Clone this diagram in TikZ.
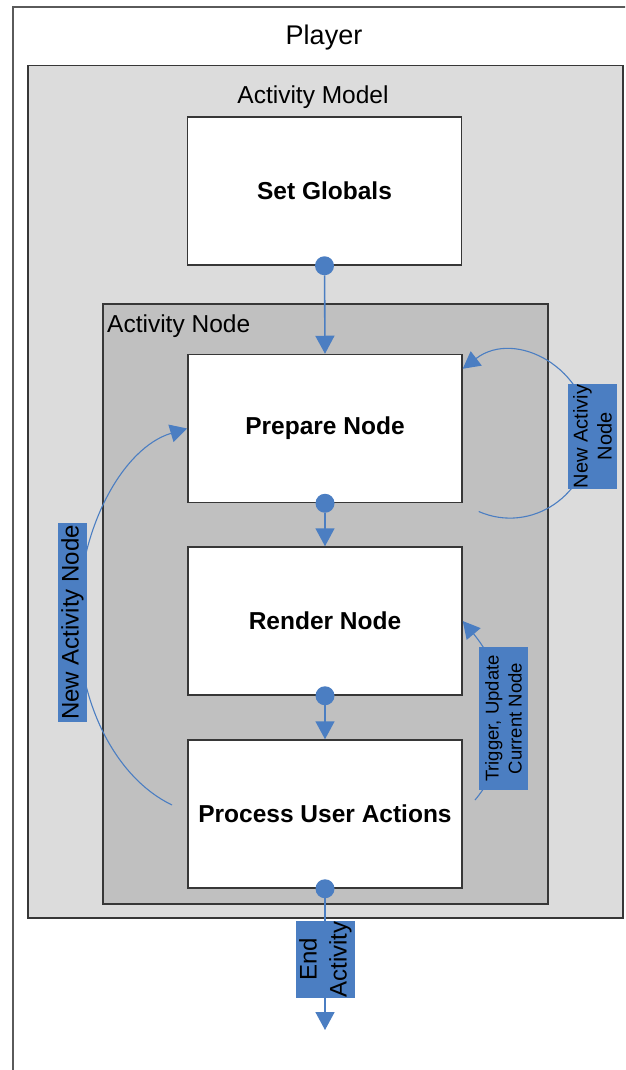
\documentclass[tikz,border=0pt]{standalone}
\usepackage{fontspec}
\setmainfont{Liberation Sans}
\usetikzlibrary{arrows.meta,calc}
\definecolor{vblue}{RGB}{75,126,194}
\definecolor{modelgray}{RGB}{220,220,220}
\definecolor{nodegray}{RGB}{192,192,192}
\definecolor{edgec}{RGB}{55,55,55}
\definecolor{playerc}{RGB}{90,90,90}
\begin{document}
\begin{tikzpicture}[x=1pt,y=1pt,
  frame/.style={draw=edgec, line width=1.5pt, rectangle, inner sep=0pt, anchor=north west},
  stepbox/.style={frame, fill=white, minimum width=274pt, minimum height=148pt, font=\bfseries\fontsize{24.5}{29}\selectfont, anchor=center},
  title/.style={font=\fontsize{24.5}{29}\selectfont, inner sep=0pt},
  dot/.style={circle, fill=vblue, inner sep=0pt, minimum size=19pt},
  sarr/.style={draw=vblue, line width=1.6pt, -{Triangle[width=19pt,length=18pt]}},
  carr/.style={draw=vblue, line width=1.1pt, -{Triangle[width=18pt,length=17pt]}},
  lbl/.style={fill=vblue, inner sep=0pt, rotate=90, align=center, text=black}
]
\useasboundingbox (0,0) rectangle (625,-1070);
\clip (0,0) rectangle (625,-1070);
\fill[white] (0,0) rectangle (625,-1070);
% containers
\node[frame, draw=playerc, line width=2pt, minimum width=640pt, minimum height=1100pt] (player) at (12,-6) {};
\node[title, anchor=base, font=\fontsize{27}{32}\selectfont] (playert) at (324,-45) {Player};
\node[frame, fill=modelgray, minimum width=595pt, minimum height=852pt] (model) at (27,-65) {};
\node[title, anchor=base] (modelt) at (313,-103) {Activity Model};
\node[stepbox] (sg) at (324.5,-191) {Set Globals};
\node[frame, fill=nodegray, minimum width=445pt, minimum height=600pt] (anode) at (102,-303) {};
\node[title, anchor=base west] (anodet) at (107,-332) {Activity Node};
\node[stepbox] (prep) at (325,-428.5) {Prepare Node};
\node[stepbox] (rend) at (325,-621) {Render Node};
\node[stepbox] (proc) at (325,-814) {Process User Actions};
% dots
\node[dot] (d1) at (sg.south) {};
\node[dot] (d2) at (prep.south) {};
\node[dot] (d3) at (rend.south) {};
\node[dot] (d4) at (proc.south) {};
% straight flow
\draw[sarr] (d1) -- (prep.north);
\draw[sarr] (d2) -- (rend.north);
\draw[sarr] (d3) -- (proc.north);
\coordinate (endpt) at (325,-1030);
\draw[sarr] (d4) -- (endpt);
\node[lbl, font=\fontsize{24}{30}\selectfont, minimum width=77pt, minimum height=59pt] (endl) at (325.5,-959.5) {End\\Activity};
% left loop
\coordinate (l1) at (172,-805);
\coordinate (lm) at (78,-620);
\draw[carr] (l1) .. controls +(-56,27) and +(0,-84) .. (lm) .. controls +(0,92) and +(-64,-19) .. (prep.west);
\node[lbl, font=\fontsize{24}{28}\selectfont, minimum width=199pt, minimum height=29pt] (ll) at (72.5,-622.5) {New Activity Node};
% right loop
\coordinate (r1) at (478.7,-511.5);
\coordinate (rm) at (590,-436);
\coordinate (r2) at ($(prep.north east)+(0,-15)$);
\draw[carr] (r1) .. controls +(52.7,-23) and +(0,-58.7) .. (rm) .. controls +(0,67.5) and +(52.7,40.5) .. (r2);
\node[lbl, font=\fontsize{20}{24}\selectfont, minimum width=105pt, minimum height=49pt] (rl) at (592.5,-436.5) {New Activiy\\Node};
% trigger
\coordinate (t1) at (475,-800);
\draw[carr] (t1) to[out=50, in=-50] (rend.east);
\node[lbl, font=\fontsize{18.5}{23}\selectfont, minimum width=143pt, minimum height=49pt] (tl) at (503.5,-718.5) {Trigger, Update\\Current Node};
\end{tikzpicture}
\end{document}
